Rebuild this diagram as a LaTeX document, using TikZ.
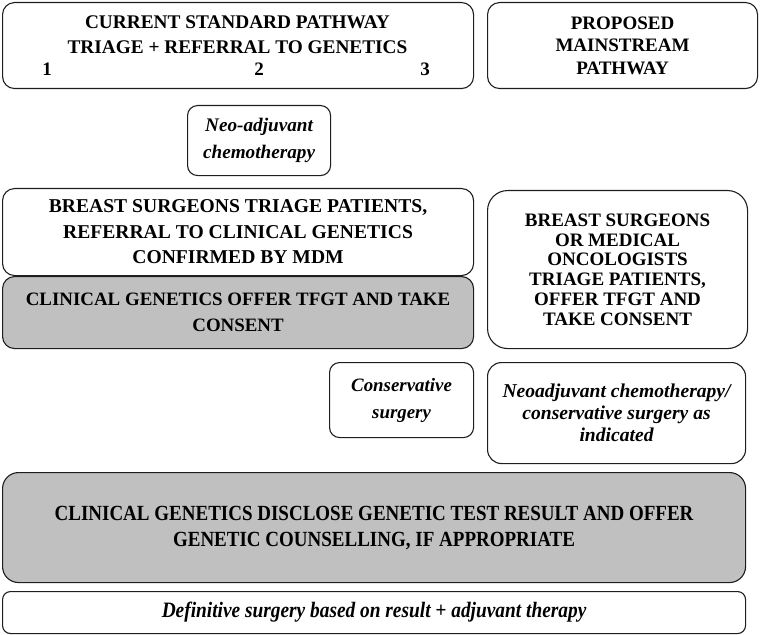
\documentclass[tikz,border=0pt]{standalone}
\usepackage{fontspec}
\setmainfont{Liberation Serif}
\newfontfamily\condfont[FakeStretch=0.88]{Liberation Serif}
\usetikzlibrary{positioning}
\definecolor{boxgray}{RGB}{192,192,192}
\definecolor{edge}{RGB}{30,30,30}
\tikzset{
  pbox/.style={draw=edge, line width=1.1bp, rounded corners=12bp, inner sep=0pt,
    anchor=north west, align=center, font=\bfseries},
  graybox/.style={pbox, fill=boxgray},
}
\newcommand{\fs}[2]{\fontsize{#1bp}{#2bp}\selectfont}
\begin{document}
\begin{tikzpicture}[x=1bp,y=-1bp]
\useasboundingbox (0,0) rectangle (760,635);
% top row
\node[pbox, minimum width=471bp, minimum height=86bp] (cur) at (2,2) {};
\node[font=\bfseries\fs{19.3}{25}, align=center] (curt) at (237.5,35) {CURRENT STANDARD PATHWAY\\TRIAGE + REFERRAL TO GENETICS};
\node[font=\bfseries\fs{19}{25}] (n1) at (47,69) {1};
\node[font=\bfseries\fs{19}{25}] (n2) at (259,69) {2};
\node[font=\bfseries\fs{19}{25}] (n3) at (425,69) {3};
\node[pbox, minimum width=270bp, minimum height=86bp, font=\bfseries\fs{19}{22.5}] (prop) at (487,2) {PROPOSED\\MAINSTREAM\\PATHWAY};
% neo-adjuvant
\node[pbox, rounded corners=10bp, minimum width=143bp, minimum height=70bp, font=\bfseries\itshape\fs{19.2}{27}] (neo) at (187,105) {Neo-adjuvant\\chemotherapy};
% breast surgeons
\node[pbox, minimum width=471bp, minimum height=87bp, font=\bfseries\fs{19.6}{25.5}] (bs) at (2,188) {BREAST SURGEONS TRIAGE PATIENTS,\\REFERRAL TO CLINICAL GENETICS\\CONFIRMED BY MDM};
\node[graybox, minimum width=471bp, minimum height=72bp, font=\bfseries\fs{18.9}{26}] (cg) at (2,276) {CLINICAL GENETICS OFFER TFGT AND TAKE\\CONSENT};
\node[pbox, rounded corners=20bp, minimum width=260bp, minimum height=158bp, font=\bfseries\fs{19}{19.7}] (ofc) at (487,190) {BREAST SURGEONS\\OR MEDICAL\\ONCOLOGISTS\\TRIAGE PATIENTS,\\OFFER TFGT AND\\TAKE CONSENT};
% surgery
\node[pbox, rounded corners=10bp, minimum width=144bp, minimum height=75bp, font=\bfseries\itshape\fs{18.9}{27}] (cs) at (329,362) {Conservative\\surgery};
\node[pbox, rounded corners=14bp, minimum width=258bp, minimum height=101bp, font=\bfseries\itshape\fs{19.6}{22}] (nac) at (487,362) {Neoadjuvant chemotherapy/\\conservative surgery as\\indicated};
% bottom
\node[graybox, rounded corners=16bp, minimum width=743bp, minimum height=110bp, font=\condfont\bfseries\fs{21.6}{26}] (disc) at (2,472) {CLINICAL GENETICS DISCLOSE GENETIC TEST RESULT AND OFFER\\GENETIC COUNSELLING, IF APPROPRIATE};
\node[pbox, rounded corners=8bp, minimum width=743bp, minimum height=42bp, font=\condfont\bfseries\itshape\fs{22}{22}] (def) at (2,591) {Definitive surgery based on result + adjuvant therapy};
\end{tikzpicture}
\end{document}
